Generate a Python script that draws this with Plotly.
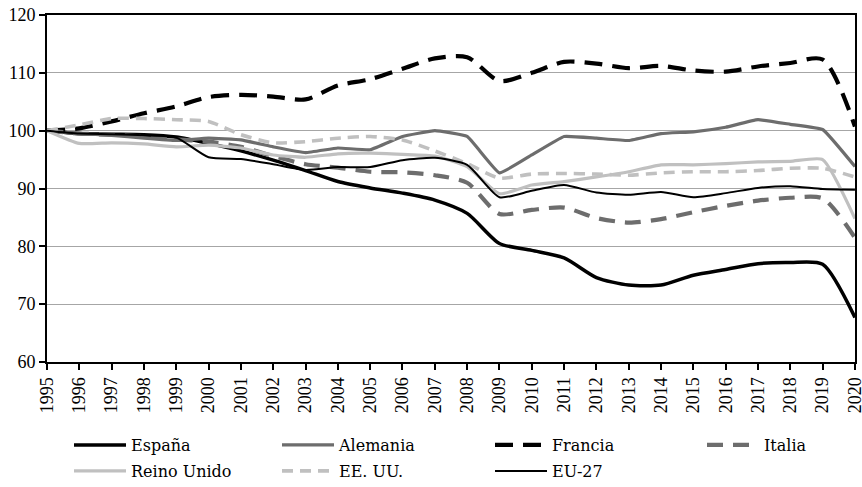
import plotly.graph_objects as go

years = list(range(1995, 2021))

espana = [100, 99.5, 99.4, 99.3, 98.9, 97.8, 96.5, 94.9, 93.1, 91.2, 90.1, 89.2, 88.0, 85.7,
          80.5, 79.3, 78.0, 74.6, 73.3, 73.3, 75.0, 76.0, 77.0, 77.2, 76.9, 67.7]
alemania = [100, 99.5, 99.2, 98.7, 98.3, 98.7, 98.4, 97.2, 96.2, 97.0, 96.7, 99.0, 100.0, 99.0,
            92.7, 95.8, 99.0, 98.7, 98.3, 99.5, 99.8, 100.6, 101.9, 101.1, 100.2, 93.8]
francia = [100, 100.4, 101.6, 103.0, 104.2, 105.8, 106.2, 105.9, 105.4, 107.8, 108.9, 110.7, 112.5, 112.7,
           108.6, 110.0, 111.9, 111.6, 110.8, 111.2, 110.4, 110.2, 111.1, 111.7, 112.3, 100.7]
italia = [100, 99.5, 99.3, 99.0, 98.5, 98.1, 97.2, 95.6, 94.2, 93.6, 92.9, 92.8, 92.3, 91.0,
          85.6, 86.3, 86.7, 84.9, 84.1, 84.7, 85.9, 87.0, 87.9, 88.4, 88.3, 81.5]
reino_unido = [100, 97.8, 97.9, 97.7, 97.2, 97.5, 97.0, 95.8, 95.4, 96.0, 96.1, 95.9, 95.6, 93.8,
               89.1, 90.6, 91.2, 92.0, 92.9, 94.1, 94.1, 94.3, 94.6, 94.7, 95.0, 84.8]
eeuu = [100, 101.0, 102.1, 102.1, 101.9, 101.6, 99.3, 97.9, 98.1, 98.7, 99.0, 98.4, 96.5, 94.3,
        91.8, 92.5, 92.6, 92.5, 92.3, 92.7, 92.9, 92.9, 93.1, 93.5, 93.5, 92.0]
eu27 = [100, 99.5, 99.4, 99.2, 98.8, 95.4, 95.1, 94.2, 93.2, 93.7, 93.7, 94.9, 95.3, 94.1,
        88.5, 89.6, 90.6, 89.3, 88.9, 89.4, 88.5, 89.2, 90.1, 90.4, 89.9, 89.8]

y_ticks = [60, 70, 80, 90, 100, 110, 120]

series = [
    ("España", espana, "#000000", 3.5, "solid", 0.7),
    ("Alemania", alemania, "#6d6d6d", 3.2, "solid", 0.3),
    ("Francia", francia, "#000000", 4.2, "18px,10px", 0.8),
    ("Italia", italia, "#6d6d6d", 4.2, "16px,10px", 0.7),
    ("Reino Unido", reino_unido, "#c0c0c0", 3.2, "solid", 0.5),
    ("EE. UU.", eeuu, "#c0c0c0", 3.6, "11px,7px", 0.6),
    ("EU-27", eu27, "#000000", 2.0, "solid", 0.6),
]

TICKFONT = "Liberation Serif"
LEGFONT = "DejaVu Serif"

# plot area geometry (pixels)
W, H = 862, 487
ML, MR, MT, MB = 47, 7, 15, 125
PW, PH = W - ML - MR, H - MT - MB

col_px = [69, 277, 490, 702]
row_px = [445, 471]

fig = go.Figure()
layout_legends = {}
for i, (name, vals, color, width, dash, smooth) in enumerate(series):
    lname = "legend" if i == 0 else f"legend{i + 1}"
    fig.add_trace(go.Scatter(
        x=years, y=vals, name=name, mode="lines",
        line=dict(color=color, width=width, dash=dash, shape="spline", smoothing=smooth),
        legend=lname, hoverinfo="skip",
    ))
    r, c = divmod(i, 4)
    layout_legends[lname] = dict(
        x=(col_px[c] - ML) / PW, y=(MT + PH - row_px[r]) / PH,
        xanchor="left", yanchor="middle", orientation="h",
        itemwidth=52, font=dict(family=LEGFONT, size=16, color="#000000"),
        bgcolor="rgba(0,0,0,0)", borderwidth=0,
    )

fig.update_layout(
    width=W, height=H,
    margin=dict(l=ML, r=MR, t=MT, b=MB, autoexpand=False),
    paper_bgcolor="white", plot_bgcolor="white",
    font=dict(family=TICKFONT, size=18, color="#000000"),
    showlegend=True,
    **layout_legends,
)
fig.update_xaxes(
    range=[1995, 2020.002], tickmode="array", tickvals=years, ticktext=[str(y) for y in years],
    tickangle=-90, ticks="outside", ticklen=6, tickwidth=2, tickcolor="#000000",
    showline=True, linecolor="#000000", linewidth=2, mirror=True, showgrid=False, zeroline=False,
    tickfont=dict(family=TICKFONT, size=18), automargin=False, ticklabeloverflow="allow",
)
fig.update_yaxes(
    range=[60, 120], tickmode="array", tickvals=y_ticks,
    ticks="outside", ticklen=6, tickwidth=2, tickcolor="#000000",
    showline=True, linecolor="#000000", linewidth=2, mirror=True,
    showgrid=True, gridcolor="#a6a6a6", gridwidth=1, zeroline=False,
    tickfont=dict(family=TICKFONT, size=18), automargin=False,
)
fig.write_html("out.html", post_script="document.body.style.margin='0';",
               config={"displayModeBar": False})
